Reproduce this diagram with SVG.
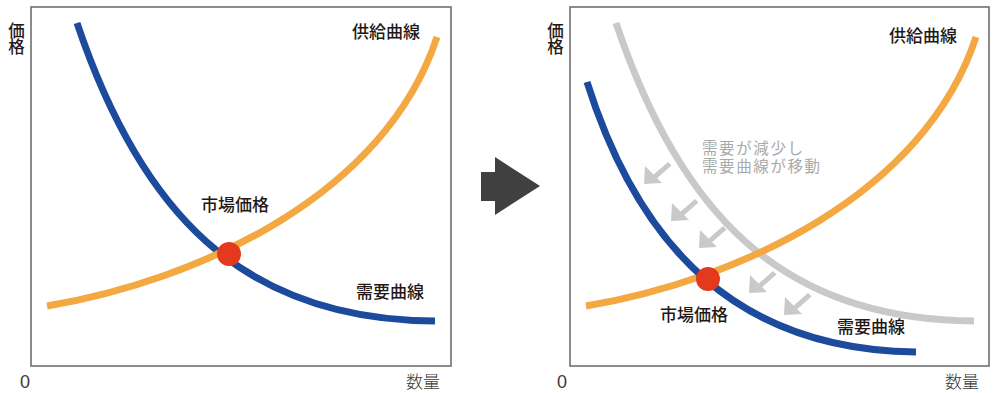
<svg xmlns="http://www.w3.org/2000/svg" width="1000" height="393" viewBox="0 0 1000 393">
<defs>
<style>
.frame{fill:#fff;stroke:#707070;stroke-width:1.6}
.curve{fill:none;stroke-width:7;stroke-linecap:butt}
.blue{stroke:#1c4a9c}
.orange{stroke:#f3a842}
.gray{stroke:#c9c9c9}
.dot{fill:#e5391d}
.lbl{font-family:"Noto Sans CJK JP","Noto Sans",sans-serif;font-size:17px;font-weight:500;fill:#231815}
.vlbl{font-family:"Noto Sans CJK JP","Noto Sans",sans-serif;font-size:16.5px;font-weight:500;fill:#231815;writing-mode:vertical-rl}
.axis{font-family:"Noto Sans CJK JP","Noto Sans",sans-serif;font-size:17px;font-weight:300;fill:#3a3a3a}
.zero{font-family:"Liberation Sans",sans-serif;font-size:18px;fill:#3a3a3a}
.note{font-family:"Noto Sans CJK JP","Noto Sans",sans-serif;font-size:15.5px;letter-spacing:1.6px;font-weight:400;fill:#aaaaaa}
.sarrow{fill:#c9c9c9}
</style>
<g id="smallArrow">
<path d="M0,0 L1,-18 L18,-1 Z"/>
<path d="M8,-8 L24,-22 L27.5,-18.5 L11,-4 Z"/>
</g>
</defs>

<g id="left-chart">
<rect class="frame" x="31" y="7" width="420" height="359"/>
<g id="left-connectors">
<path class="curve blue" d="M77,23 C140,210 240,320 435,321"/>
<path class="curve orange" d="M47,306 C200,280 385,195 437,37"/>
</g>
<g id="left-equilibrium"><circle class="dot" cx="229" cy="254" r="12"/></g>
<g id="left-labels">
<text class="vlbl" x="16.5" y="22">価格</text>
<text class="lbl" x="352" y="38">供給曲線</text>
<text class="lbl" x="201" y="211">市場価格</text>
<text class="lbl" x="356" y="298">需要曲線</text>
<text class="zero" x="20" y="388">0</text>
<text class="axis" x="406" y="388">数量</text>
</g>
</g>

<g id="transition-arrow">
<polygon fill="#404040" points="481,172 495,172 495,157 540,186 495,215 495,201 481,201"/>
</g>

<g id="right-chart">
<rect class="frame" x="570" y="7" width="419" height="359"/>
<g id="right-connectors">
<path class="curve gray" d="M616,23 C679,210 779,320 974,321"/>
<path class="curve orange" d="M586,306 C739,280 924,195 976,37"/>
<path class="curve blue" d="M587,82 C640,250 740,350 916,352"/>
</g>
<g id="shift-arrows" class="sarrow">
<use href="#smallArrow" x="644" y="184"/>
<use href="#smallArrow" x="671" y="221"/>
<use href="#smallArrow" x="699" y="248"/>
<use href="#smallArrow" x="749" y="293"/>
<use href="#smallArrow" x="784" y="315"/>
</g>
<g id="right-equilibrium"><circle class="dot" cx="708" cy="279" r="12"/></g>
<g id="right-labels">
<text class="vlbl" x="555.5" y="22">価格</text>
<text class="lbl" x="889" y="42">供給曲線</text>
<text class="lbl" x="660" y="321">市場価格</text>
<text class="lbl" x="837" y="333">需要曲線</text>
<text class="note"><tspan x="702" y="154">需要が減少し</tspan><tspan x="702" y="172">需要曲線が移動</tspan></text>
<text class="zero" x="557" y="388">0</text>
<text class="axis" x="945" y="388">数量</text>
</g>
</g>
</svg>
